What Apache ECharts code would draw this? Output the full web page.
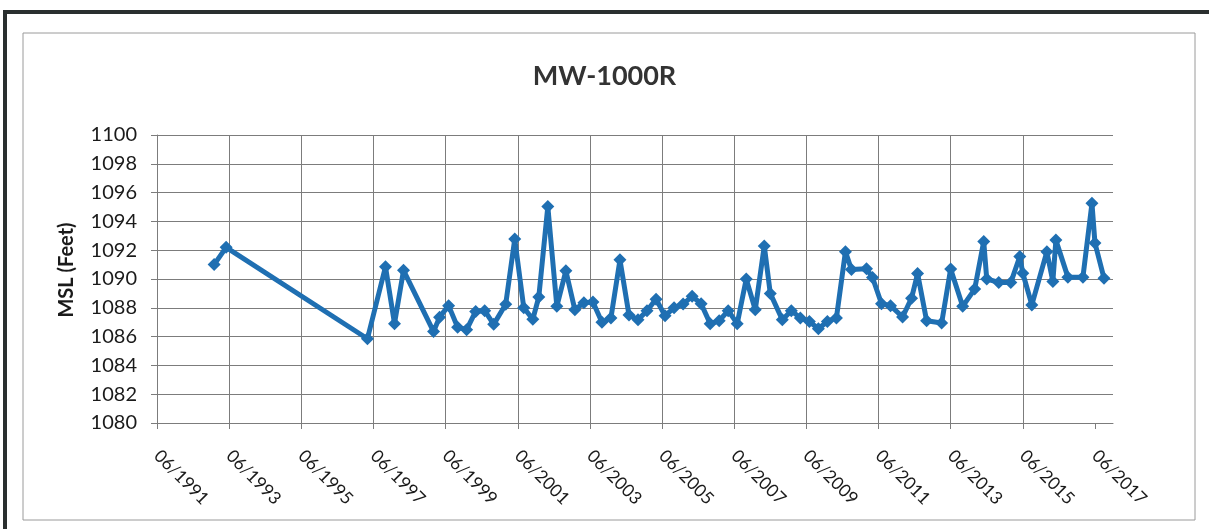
<!DOCTYPE html>
<html>
<head>
<meta charset="utf-8">
<script src="https://cdn.jsdelivr.net/npm/echarts@6/dist/echarts.min.js"></script>
<style>
html,body{margin:0;padding:0;background:#fff;}
#c{width:1209px;height:529px;}
</style>
</head>
<body>
<div id="c"></div>
<script>
// ---- data ----
var sampleDates = [
  '1993-01','1993-05','1997-04','1997-10','1998-01','1998-04','1999-02','1999-04','1999-07','1999-10',
  '2000-01','2000-04','2000-07','2000-10','2001-02','2001-05','2001-08','2001-11','2002-01','2002-04',
  '2002-07','2002-10','2003-01','2003-04','2003-07','2003-10','2004-01','2004-04','2004-07','2004-10',
  '2005-01','2005-04','2005-07','2005-10','2006-01','2006-04','2006-07','2006-10','2007-01','2007-04',
  '2007-07','2007-10','2008-01','2008-04','2008-06','2008-10','2009-01','2009-04','2009-07','2009-10',
  '2010-01','2010-04','2010-07','2010-09','2011-02','2011-04','2011-07','2011-10','2012-02','2012-05',
  '2012-07','2012-10','2013-03','2013-06','2013-10','2014-02','2014-05','2014-06','2014-10','2015-02',
  '2015-05','2015-06','2015-09','2016-02','2016-04','2016-05','2016-09','2017-02','2017-05','2017-06',
  '2017-09'
];
var mslFeet = [
  1091.0,1092.2,1085.85,1090.85,1086.9,1090.6,1086.35,1087.35,1088.15,1086.65,
  1086.48,1087.75,1087.8,1086.85,1088.25,1092.78,1088.0,1087.2,1088.75,1095.03,
  1088.1,1090.57,1087.86,1088.35,1088.4,1087.0,1087.3,1091.33,1087.5,1087.17,
  1087.8,1088.6,1087.45,1088.0,1088.26,1088.8,1088.28,1086.9,1087.1,1087.8,
  1086.9,1090.0,1087.86,1092.3,1089.0,1087.17,1087.8,1087.3,1087.05,1086.55,
  1087.05,1087.3,1091.9,1090.66,1090.72,1090.1,1088.28,1088.15,1087.36,1088.67,
  1090.38,1087.1,1086.94,1090.7,1088.1,1089.3,1092.6,1090.0,1089.76,1089.75,
  1091.56,1090.4,1088.2,1091.9,1089.83,1092.7,1090.13,1090.13,1095.26,1092.5,
  1090.06
];
var xTickLabels = ['06/1991','06/1993','06/1995','06/1997','06/1999','06/2001','06/2003',
  '06/2005','06/2007','06/2009','06/2011','06/2013','06/2015','06/2017'];
var yTicks = [1080,1082,1084,1086,1088,1090,1092,1094,1096,1098,1100];

// months since 06/1991
function monthIndex(s){
  var p = s.split('-');
  return (parseInt(p[0],10)-1991)*12 + (parseInt(p[1],10)-6);
}
var seriesData = sampleDates.map(function(d,i){ return [monthIndex(d), mslFeet[i]]; });
var xTickValues = xTickLabels.map(function(l){ return monthIndex(l.split('/')[1]+'-'+l.split('/')[0]); });

var FONT = 'Lato, "Open Sans", sans-serif';
var gridColor = '#7c7c7c';

var chart = echarts.init(document.getElementById('c'), null, {renderer:'canvas'});
chart.setOption({
  backgroundColor:'#ffffff',
  animation:false,
  title:{
    text:'MW-1000R',
    left:'center',
    top:58,
    textStyle:{fontFamily:FONT,fontWeight:'bold',fontSize:27,color:'#333'}
  },
  graphic:[
    {type:'rect',shape:{x:5,y:12,width:1210,height:530},style:{fill:'none',stroke:'#2a2f2f',lineWidth:4},silent:true},
    {type:'rect',shape:{x:23,y:33,width:1172,height:487},style:{fill:'none',stroke:'#9a9a9a',lineWidth:1},silent:true}
  ],
  grid:{left:157,right:96,top:135,bottom:106,containLabel:false},
  xAxis:{
    type:'value',
    min:0,
    max:318,
    interval:24,
    axisLine:{show:true,lineStyle:{color:gridColor,width:1}},
    axisTick:{show:true,length:6,lineStyle:{color:gridColor},customValues:xTickValues},
    axisLabel:{
      rotate:-45,
      margin:30,
      fontFamily:FONT,
      fontSize:17.5,
      color:'#1a1a1a',
      customValues:xTickValues,
      formatter:function(v){
        var i = xTickValues.indexOf(Math.round(v));
        return i>=0 ? xTickLabels[i] : '';
      }
    },
    splitLine:{show:true,showMaxLine:false,lineStyle:{color:gridColor,width:1}}
  },
  yAxis:{
    type:'value',
    min:yTicks[0],
    max:yTicks[yTicks.length-1],
    interval:2,
    name:'MSL (Feet)',
    nameLocation:'middle',
    nameGap:80,
    nameTextStyle:{fontFamily:FONT,fontWeight:'bold',fontSize:20,color:'#1a1a1a',padding:[0,0,0,18]},
    axisLine:{show:true,lineStyle:{color:gridColor,width:1}},
    axisTick:{show:true,length:6,lineStyle:{color:gridColor}},
    axisLabel:{fontFamily:FONT,fontSize:20,color:'#1a1a1a',margin:20,formatter:function(v){return String(v);}},
    splitLine:{show:true,lineStyle:{color:gridColor,width:1}}
  },
  series:[{
    type:'line',
    data:seriesData,
    symbol:'diamond',
    symbolSize:13,
    lineStyle:{color:'#1f6fb2',width:5},
    itemStyle:{color:'#1f6fb2'},
    z:5
  }]
});
</script>
</body>
</html>
